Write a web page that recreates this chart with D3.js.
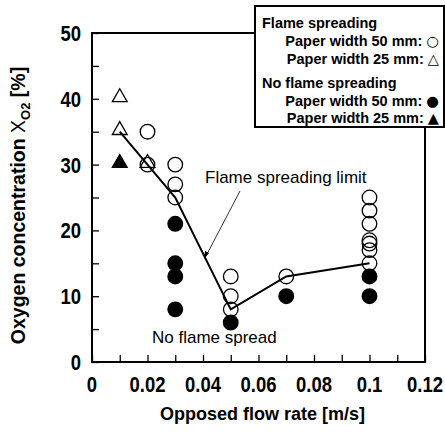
<!DOCTYPE html>
<html><head><meta charset="utf-8">
<script src="https://cdn.jsdelivr.net/npm/d3@7"></script>
<style>body{margin:0;background:#fff}svg{display:block}text{font-family:Arial,"Liberation Sans",sans-serif}</style>
</head><body><svg id="c" width="445" height="432"></svg>
<script>
const xTicks = [0, 0.02, 0.04, 0.06, 0.08, 0.1, 0.12];
const xTickLabels = ["0", "0.02", "0.04", "0.06", "0.08", "0.1", "0.12"];
const yTicks = [0, 10, 20, 30, 40, 50];
// Flame spreading, paper width 50 mm (open circles)
const flame50X = [0.02, 0.02, 0.03, 0.03, 0.03, 0.05, 0.05, 0.05, 0.07, 0.1, 0.1, 0.1, 0.1, 0.1, 0.1, 0.1];
const flame50Y = [35, 30, 30, 27, 25, 13, 10, 8, 13, 25, 23, 21, 18.5, 18, 17, 15];
// Flame spreading, paper width 25 mm (open triangles)
const flame25X = [0.01, 0.01, 0.02];
const flame25Y = [40, 35, 30];
// No flame spreading, 50 mm (filled circles)
const noFlame50X = [0.03, 0.03, 0.03, 0.03, 0.05, 0.07, 0.1, 0.1];
const noFlame50Y = [21, 15, 13, 8, 6, 10, 13, 10];
// No flame spreading, 25 mm (filled triangles)
const noFlame25X = [0.01];
const noFlame25Y = [30];
// Flame spreading limit line
const limitX = [0.01, 0.02, 0.03, 0.05, 0.07, 0.1];
const limitY = [35, 30, 25, 8, 13, 15];

const svg = d3.select("#c");
const L = 92, R = 425, T = 33, B = 362;
const x = d3.scaleLinear().domain([0, 0.12]).range([L, R]);
const y = d3.scaleLinear().domain([0, 50]).range([B, T]);

// frame
svg.append("rect").attr("x", L).attr("y", T).attr("width", R - L).attr("height", B - T)
  .attr("fill", "none").attr("stroke", "#000").attr("stroke-width", 2);

// x axis (ticks inside)
const xa = svg.append("g").attr("transform", `translate(0,${B})`)
  .call(d3.axisBottom(x).tickValues(d3.range(0, 0.1201, 0.01)).tickSize(-7).tickFormat(""));
xa.select(".domain").remove();
xa.selectAll("line").attr("stroke", "#000").attr("stroke-width", 1.3);
svg.append("g").selectAll("text").data(xTicks).join("text")
  .attr("transform", d => `translate(${x(d)},${B + 30}) scale(0.86,1)`).attr("text-anchor", "middle")
  .attr("font-size", 21.5).attr("font-weight", "bold")
  .text((d, i) => xTickLabels[i]);

// y axis (ticks inside)
const ya = svg.append("g").attr("transform", `translate(${L},0)`)
  .call(d3.axisLeft(y).tickValues(d3.range(0, 50.1, 5)).tickSize(-7).tickFormat(""));
ya.select(".domain").remove();
ya.selectAll("line").attr("stroke", "#000").attr("stroke-width", 1.3);
svg.append("g").selectAll("text").data(yTicks).join("text")
  .attr("transform", d => `translate(${L - 11},${y(d) + 8}) scale(0.86,1)`).attr("text-anchor", "end")
  .attr("font-size", 21.5).attr("font-weight", "bold").text(d => d);

// axis titles
svg.append("text").attr("x", (L + R) / 2 + 4).attr("y", 420).attr("text-anchor", "middle")
  .attr("font-size", 18).attr("font-weight", "bold").text("Opposed flow rate [m/s]");
const yt = svg.append("text").attr("transform", `translate(25,${(T + B) / 2 + 8}) rotate(-90)`)
  .attr("text-anchor", "middle").attr("font-size", 19.5).attr("font-weight", "bold");
yt.append("tspan").text("Oxygen concentration ");
yt.append("tspan").attr("font-weight", "normal").text("X");
yt.append("tspan").attr("font-size", 13).attr("dy", 5).text("O2");
yt.append("tspan").attr("dy", -5).text(" [%]");

// limit line
const pts = limitX.map((d, i) => [x(d), y(limitY[i])]);
svg.append("path").attr("d", d3.line()(pts)).attr("fill", "none").attr("stroke", "#000").attr("stroke-width", 2);

const tri = d3.symbol().type(d3.symbolTriangle).size(95);
function circles(xs, ys, filled) {
  svg.append("g").selectAll("circle").data(xs).join("circle")
    .attr("cx", d => x(d)).attr("cy", (d, i) => y(ys[i])).attr("r", 7.3)
    .attr("fill", filled ? "#000" : "none").attr("stroke", "#000").attr("stroke-width", 1.3);
}
function triangles(xs, ys, filled) {
  svg.append("g").selectAll("path").data(xs).join("path")
    .attr("d", tri).attr("transform", (d, i) => `translate(${x(d)},${y(ys[i]) - 1.5})`)
    .attr("fill", filled ? "#000" : "none").attr("stroke", "#000").attr("stroke-width", 1.3);
}
circles(flame50X, flame50Y, false);
triangles(flame25X, flame25Y, false);
circles(noFlame50X, noFlame50Y, true);
triangles(noFlame25X, noFlame25Y, true);

// annotations
svg.append("text").attr("x", 205).attr("y", 183).attr("font-size", 17).text("Flame spreading limit");
svg.append("line").attr("x1", 240).attr("y1", 191).attr("x2", 206).attr("y2", 256)
  .attr("stroke", "#000").attr("stroke-width", 0.8);
svg.append("path").attr("d", "M204,259 L205,251 L209,253 Z").attr("fill", "#000");
svg.append("text").attr("x", 152).attr("y", 343).attr("font-size", 17).text("No flame spread");

// legend
const lg = svg.append("g");
lg.append("rect").attr("x", 255).attr("y", 6).attr("width", 189).attr("height", 121)
  .attr("fill", "#fff").attr("stroke", "#000").attr("stroke-width", 2);
const legLines = [
  {t: "Flame spreading", s: "", x: 262, a: "start", y: 28},
  {t: "Paper width 50 mm: ", s: "\u25CB", x: 439, a: "end", y: 46},
  {t: "Paper width 25 mm: ", s: "\u25B3", x: 439, a: "end", y: 64},
  {t: "No flame spreading", s: "", x: 262, a: "start", y: 88},
  {t: "Paper width 50 mm: ", s: "\u25CF", x: 439, a: "end", y: 106},
  {t: "Paper width 25 mm: ", s: "\u25B2", x: 439, a: "end", y: 123}
];
const lt = lg.selectAll("text").data(legLines).join("text")
  .attr("x", d => d.x).attr("y", d => d.y).attr("text-anchor", d => d.a)
  .attr("font-size", 14.5).attr("font-weight", "bold");
lt.append("tspan").text(d => d.t);
lt.append("tspan").style("font-family", "'DejaVu Sans'").attr("font-weight", "normal").text(d => d.s);
</script></body></html>
